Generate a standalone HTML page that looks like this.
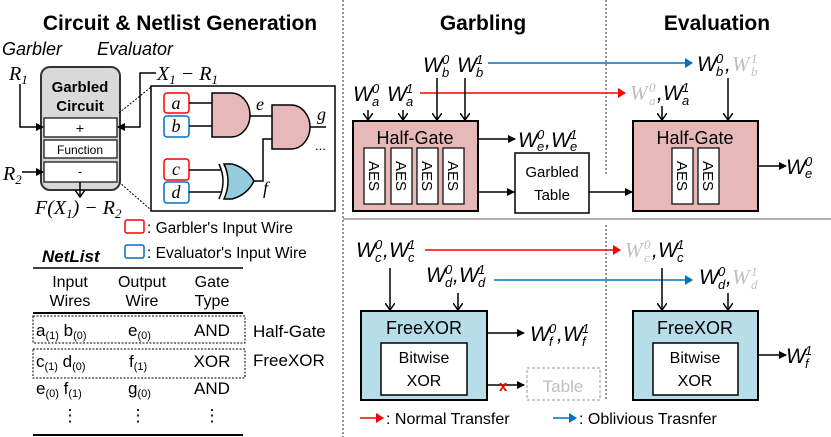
<!DOCTYPE html>
<html><head><meta charset="utf-8"><style>
html,body{margin:0;padding:0;background:#fff;}
svg{display:block;}
text{font-family:"Liberation Sans",sans-serif;fill:#000;}
.m{font-family:"Liberation Serif",serif;font-style:italic;font-weight:normal;}
.g{fill:#bfbfbf;}
g.m text[font-size="13"]{transform:translate(2px,0);}
</style></head><body>
<svg width="831" height="437" viewBox="0 0 831 437" xmlns="http://www.w3.org/2000/svg">
<defs>
<marker id="ak" markerWidth="8" markerHeight="8" refX="7" refY="4" orient="auto" markerUnits="userSpaceOnUse"><path d="M0,0 L8,4 L0,8 z" fill="#000"/></marker>
<marker id="ar" markerWidth="8" markerHeight="10" refX="7" refY="5" orient="auto" markerUnits="userSpaceOnUse"><path d="M0,0 L8,5 L0,10 z" fill="#f00"/></marker>
<marker id="ab" markerWidth="8" markerHeight="10" refX="7" refY="5" orient="auto" markerUnits="userSpaceOnUse"><path d="M0,0 L8,5 L0,10 z" fill="#0070c0"/></marker>
<marker id="av" markerWidth="10" markerHeight="8" refX="5" refY="7" orient="0" markerUnits="userSpaceOnUse"><path d="M0,0 L5,7 L10,0" fill="none" stroke="#000" stroke-width="1.5"/></marker>
</defs>

<line x1="343" y1="0" x2="343" y2="437" stroke="#777" stroke-width="1.5" stroke-dasharray="2,2"/>
<line x1="606" y1="0" x2="606" y2="176" stroke="#777" stroke-width="1.5" stroke-dasharray="2,2"/>
<line x1="606" y1="225" x2="606" y2="400" stroke="#777" stroke-width="1.5" stroke-dasharray="2,2"/>
<line x1="343" y1="219" x2="831" y2="219" stroke="#999" stroke-width="1.5"/>

<text x="180" y="30" font-size="21" font-weight="bold" text-anchor="middle">Circuit &amp; Netlist Generation</text>
<text x="483" y="30" font-size="21" font-weight="bold" text-anchor="middle">Garbling</text>
<text x="717" y="30" font-size="21" font-weight="bold" text-anchor="middle">Evaluation</text>

<text x="2" y="55" font-size="18" font-style="italic">Garbler</text>
<text x="97" y="55" font-size="18" font-style="italic">Evaluator</text>
<rect x="41" y="67" width="79" height="123" rx="9" fill="#d9d9d9" stroke="#333" stroke-width="2"/>
<text x="80" y="92" font-size="15" font-weight="bold" text-anchor="middle">Garbled</text>
<text x="80" y="111" font-size="15" font-weight="bold" text-anchor="middle">Circuit</text>
<rect x="44" y="118" width="73" height="19" fill="#fff" stroke="#333" stroke-width="1.5"/>
<text x="80" y="133" font-size="14" text-anchor="middle">+</text>
<rect x="44" y="140" width="73" height="18" fill="#fff" stroke="#333" stroke-width="1.5"/>
<text x="80" y="154" font-size="12" text-anchor="middle">Function</text>
<rect x="44" y="162" width="73" height="20" fill="#fff" stroke="#333" stroke-width="1.5"/>
<text x="80" y="176" font-size="13" text-anchor="middle">-</text>
<text class="m" x="9" y="80" font-size="20">R<tspan font-size="13" dy="4">1</tspan></text>
<polyline points="20,84 20,127 43,127" fill="none" stroke="#000" stroke-width="1.5" marker-end="url(#ak)"/>
<text class="m" x="157" y="80" font-size="20">X<tspan font-size="13" dy="4">1</tspan><tspan dy="-4"> − R</tspan><tspan font-size="13" dy="4">1</tspan></text>
<polyline points="156,73 140,73 140,127 118,127" fill="none" stroke="#000" stroke-width="1.5" marker-end="url(#ak)"/>
<text class="m" x="3" y="180" font-size="20">R<tspan font-size="13" dy="4">2</tspan></text>
<line x1="22" y1="172" x2="43" y2="172" stroke="#000" stroke-width="1.5" marker-end="url(#ak)"/>
<line x1="80" y1="182" x2="80" y2="197" stroke="#000" stroke-width="1.5" marker-end="url(#av)"/>
<text class="m" x="35" y="214" font-size="20">F(X<tspan font-size="13" dy="4">1</tspan><tspan dy="-4">) − R</tspan><tspan font-size="13" dy="4">2</tspan></text>
<line x1="119" y1="113" x2="151" y2="87" stroke="#000" stroke-width="1" stroke-dasharray="2,1.5"/>
<line x1="119" y1="182" x2="151" y2="210" stroke="#000" stroke-width="1" stroke-dasharray="2,1.5"/>
<rect x="151" y="86" width="184" height="125" fill="#fff" stroke="#000" stroke-width="1.5"/>
<rect x="164" y="93" width="25" height="20" rx="3" fill="#fff" stroke="#f00" stroke-width="1.5"/>
<text class="m" x="176" y="109" font-size="18" text-anchor="middle">a</text>
<rect x="164" y="116" width="25" height="21" rx="3" fill="#fff" stroke="#0070c0" stroke-width="1.5"/>
<text class="m" x="176" y="132" font-size="18" text-anchor="middle">b</text>
<rect x="164" y="159" width="25" height="21" rx="3" fill="#fff" stroke="#f00" stroke-width="1.5"/>
<text class="m" x="176" y="175" font-size="18" text-anchor="middle">c</text>
<rect x="164" y="182" width="25" height="21" rx="3" fill="#fff" stroke="#0070c0" stroke-width="1.5"/>
<text class="m" x="176" y="198" font-size="18" text-anchor="middle">d</text>
<line x1="189" y1="103" x2="212" y2="103" stroke="#000" stroke-width="1.5"/>
<line x1="189" y1="126" x2="212" y2="126" stroke="#000" stroke-width="1.5"/>
<line x1="189" y1="170" x2="222" y2="170" stroke="#000" stroke-width="1.5"/>
<line x1="189" y1="192" x2="222" y2="192" stroke="#000" stroke-width="1.5"/>
<path d="M212,93 L231,93 A19,22 0 0 1 231,137 L212,137 Z" fill="#e6b9b8" stroke="#000" stroke-width="1.5"/>
<line x1="250" y1="116" x2="272" y2="116" stroke="#000" stroke-width="1.5"/>
<text class="m" x="256" y="110" font-size="18">e</text>
<path d="M272,105 L291,105 A19,22 0 0 1 291,149 L272,149 Z" fill="#e6b9b8" stroke="#000" stroke-width="1.5"/>
<line x1="310" y1="127" x2="326" y2="127" stroke="#000" stroke-width="1.5"/>
<text class="m" x="317" y="120" font-size="18">g</text>
<text x="315" y="150" font-size="13">...</text>
<path d="M219,164 Q227,181 219,199" fill="none" stroke="#000" stroke-width="1.5"/>
<path d="M224,164 L232,164 Q247,168 254,181 Q247,195 232,199 L224,199 Q232,181 224,164 Z" fill="#93cddd" stroke="#000" stroke-width="1.5"/>
<polyline points="254,181 263,181 263,139 272,139" fill="none" stroke="#000" stroke-width="1.5"/>
<text class="m" x="263" y="194" font-size="18">f</text>

<rect x="125" y="220" width="19" height="13" rx="2" fill="#fff" stroke="#f00" stroke-width="1.5"/>
<text x="147" y="233" font-size="15.5">: Garbler's Input Wire</text>
<rect x="125" y="245" width="19" height="13" rx="2" fill="#fff" stroke="#0070c0" stroke-width="1.5"/>
<text x="147" y="258" font-size="15.5">: Evaluator's Input Wire</text>

<text x="42" y="262" font-size="17" font-weight="bold" font-style="italic">NetList</text>
<line x1="33" y1="268" x2="243" y2="268" stroke="#000" stroke-width="1.5"/>
<g font-size="16" text-anchor="middle">
<text x="70" y="287">Input</text><text x="70" y="306">Wires</text>
<text x="142" y="287">Output</text><text x="142" y="306">Wire</text>
<text x="212" y="287">Gate</text><text x="212" y="306">Type</text>
</g>
<line x1="33" y1="313" x2="243" y2="313" stroke="#000" stroke-width="2"/>
<rect x="33" y="316" width="212" height="27" fill="none" stroke="#000" stroke-width="1" stroke-dasharray="2,1.5"/>
<rect x="33" y="349" width="212" height="29" fill="none" stroke="#000" stroke-width="1" stroke-dasharray="2,1.5"/>
<g font-size="17">
<text x="36" y="336">a<tspan font-size="11" dy="3">(1)</tspan><tspan dy="-3"> b</tspan><tspan font-size="11" dy="3">(0)</tspan></text>
<text x="128" y="336">e<tspan font-size="11" dy="3">(0)</tspan></text>
<text x="212" y="336" text-anchor="middle">AND</text>
<text x="36" y="367">c<tspan font-size="11" dy="3">(1)</tspan><tspan dy="-3"> d</tspan><tspan font-size="11" dy="3">(0)</tspan></text>
<text x="129" y="367">f<tspan font-size="11" dy="3">(1)</tspan></text>
<text x="212" y="367" text-anchor="middle">XOR</text>
<text x="36" y="394">e<tspan font-size="11" dy="3">(0)</tspan><tspan dy="-3"> f</tspan><tspan font-size="11" dy="3">(1)</tspan></text>
<text x="128" y="394">g<tspan font-size="11" dy="3">(0)</tspan></text>
<text x="212" y="394" text-anchor="middle">AND</text>
<text x="70" y="421" text-anchor="middle">⋮</text><text x="138" y="421" text-anchor="middle">⋮</text><text x="212" y="421" text-anchor="middle">⋮</text>
<text x="253" y="337">Half-Gate</text>
<text x="253" y="366">FreeXOR</text>
</g>
<line x1="33" y1="435" x2="243" y2="435" stroke="#000" stroke-width="2"/>

<g class="m" font-size="21">
<text x="353" y="101">W</text><text x="370" y="93" font-size="13">0</text><text x="370" y="106" font-size="13">a</text>
<text x="387" y="101">W</text><text x="404" y="93" font-size="13">1</text><text x="404" y="106" font-size="13">a</text>
<text x="423" y="72">W</text><text x="440" y="64" font-size="13">0</text><text x="440" y="77" font-size="13">b</text>
<text x="457" y="72">W</text><text x="474" y="64" font-size="13">1</text><text x="474" y="77" font-size="13">b</text>
</g>
<line x1="420" y1="93" x2="625" y2="93" stroke="#f00" stroke-width="1.5" marker-end="url(#ar)"/>
<line x1="488" y1="63" x2="692" y2="63" stroke="#0070c0" stroke-width="1.5" marker-end="url(#ab)"/>
<g stroke="#000" stroke-width="1.5">
<line x1="368" y1="110" x2="368" y2="120" marker-end="url(#av)"/>
<line x1="403" y1="110" x2="403" y2="120" marker-end="url(#av)"/>
<line x1="437" y1="78" x2="437" y2="120" marker-end="url(#av)"/>
<line x1="465" y1="78" x2="465" y2="120" marker-end="url(#av)"/>
</g>
<rect x="353" y="121" width="125" height="90" fill="#e6b9b8" stroke="#000" stroke-width="2"/>
<text x="415" y="144" font-size="18" text-anchor="middle">Half-Gate</text>
<g font-size="15">
<rect x="364" y="148" width="21" height="56" fill="#fff" stroke="#000" stroke-width="1.2"/>
<rect x="391" y="148" width="21" height="56" fill="#fff" stroke="#000" stroke-width="1.2"/>
<rect x="417" y="148" width="21" height="56" fill="#fff" stroke="#000" stroke-width="1.2"/>
<rect x="443" y="148" width="21" height="56" fill="#fff" stroke="#000" stroke-width="1.2"/>
<text transform="translate(369,176) rotate(90)" text-anchor="middle">AES</text>
<text transform="translate(396,176) rotate(90)" text-anchor="middle">AES</text>
<text transform="translate(422,176) rotate(90)" text-anchor="middle">AES</text>
<text transform="translate(448,176) rotate(90)" text-anchor="middle">AES</text>
</g>
<line x1="478" y1="139" x2="515" y2="139" stroke="#000" stroke-width="1.5" marker-end="url(#ak)"/>
<g class="m" font-size="21">
<text x="518" y="147">W</text><text x="535" y="139" font-size="13">0</text><text x="535" y="151" font-size="13">e</text><text x="545" y="147">,</text>
<text x="551" y="147">W</text><text x="568" y="139" font-size="13">1</text><text x="568" y="151" font-size="13">e</text>
</g>
<line x1="478" y1="192" x2="514" y2="192" stroke="#000" stroke-width="1.5" marker-end="url(#ak)"/>
<rect x="515" y="153" width="74" height="60" fill="#fff" stroke="#000" stroke-width="1.5"/>
<text x="552" y="177" font-size="15" text-anchor="middle">Garbled</text>
<text x="552" y="200" font-size="15" text-anchor="middle">Table</text>
<line x1="589" y1="192" x2="632" y2="192" stroke="#000" stroke-width="1.5" marker-end="url(#ak)"/>

<g class="m" font-size="21">
<text x="630" y="100" class="m g">W</text><text x="647" y="92" font-size="13" class="m g">0</text><text x="647" y="105" font-size="13" class="m g">a</text><text x="657" y="100">,</text>
<text x="663" y="100">W</text><text x="680" y="92" font-size="13">1</text><text x="680" y="105" font-size="13">a</text>
<text x="697" y="71">W</text><text x="714" y="63" font-size="13">0</text><text x="714" y="76" font-size="13">b</text><text x="725" y="71">,</text>
<text x="732" y="71" class="m g">W</text><text x="749" y="63" font-size="13" class="m g">1</text><text x="749" y="76" font-size="13" class="m g">b</text>
</g>
<line x1="662" y1="106" x2="662" y2="120" stroke="#000" stroke-width="1.5" marker-end="url(#av)"/>
<line x1="728" y1="78" x2="728" y2="120" stroke="#000" stroke-width="1.5" marker-end="url(#av)"/>
<rect x="633" y="121" width="125" height="90" fill="#e6b9b8" stroke="#000" stroke-width="2"/>
<text x="695" y="144" font-size="18" text-anchor="middle">Half-Gate</text>
<g font-size="15">
<rect x="672" y="148" width="21" height="56" fill="#fff" stroke="#000" stroke-width="1.2"/>
<rect x="698" y="148" width="21" height="56" fill="#fff" stroke="#000" stroke-width="1.2"/>
<text transform="translate(677,176) rotate(90)" text-anchor="middle">AES</text>
<text transform="translate(703,176) rotate(90)" text-anchor="middle">AES</text>
</g>
<line x1="758" y1="166" x2="786" y2="166" stroke="#000" stroke-width="1.5" marker-end="url(#ak)"/>
<g class="m" font-size="21"><text x="786" y="174">W</text><text x="803" y="166" font-size="13">0</text><text x="803" y="178" font-size="13">e</text></g>

<g class="m" font-size="21">
<text x="356" y="257">W</text><text x="373" y="249" font-size="13">0</text><text x="373" y="262" font-size="13">c</text><text x="383" y="257">,</text>
<text x="389" y="257">W</text><text x="406" y="249" font-size="13">1</text><text x="406" y="262" font-size="13">c</text>
<text x="426" y="282">W</text><text x="443" y="274" font-size="13">0</text><text x="443" y="287" font-size="13">d</text><text x="453" y="282">,</text>
<text x="459" y="282">W</text><text x="476" y="274" font-size="13">1</text><text x="476" y="287" font-size="13">d</text>
</g>
<line x1="425" y1="250" x2="620" y2="250" stroke="#f00" stroke-width="1.5" marker-end="url(#ar)"/>
<line x1="494" y1="280" x2="692" y2="280" stroke="#0070c0" stroke-width="1.5" marker-end="url(#ab)"/>
<line x1="390" y1="268" x2="390" y2="310" stroke="#000" stroke-width="1.5" marker-end="url(#av)"/>
<line x1="458" y1="293" x2="458" y2="310" stroke="#000" stroke-width="1.5" marker-end="url(#av)"/>
<rect x="361" y="311" width="126" height="89" fill="#b7dde8" stroke="#000" stroke-width="2"/>
<text x="424" y="334" font-size="18" text-anchor="middle">FreeXOR</text>
<rect x="381" y="343" width="86" height="52" fill="#fff" stroke="#000" stroke-width="1.5"/>
<text x="424" y="363" font-size="16" text-anchor="middle">Bitwise</text>
<text x="424" y="386" font-size="16" text-anchor="middle">XOR</text>
<line x1="487" y1="333" x2="524" y2="333" stroke="#000" stroke-width="1.5" marker-end="url(#ak)"/>
<g class="m" font-size="21">
<text x="530" y="341">W</text><text x="547" y="333" font-size="13">0</text><text x="547" y="346" font-size="13">f</text><text x="557" y="341">,</text>
<text x="563" y="341">W</text><text x="580" y="333" font-size="13">1</text><text x="580" y="346" font-size="13">f</text>
</g>
<line x1="487" y1="385" x2="524" y2="385" stroke="#000" stroke-width="1.5" marker-end="url(#ak)"/>
<text x="503" y="391" font-size="15" font-weight="bold" style="fill:#f00" text-anchor="middle">x</text>
<rect x="527" y="368" width="73" height="32" fill="#fff" stroke="#aaa" stroke-width="1.2" stroke-dasharray="3,2"/>
<text x="563" y="392" font-size="17" text-anchor="middle" class="g">Table</text>

<g class="m" font-size="21">
<text x="625" y="257" class="m g">W</text><text x="642" y="249" font-size="13" class="m g">0</text><text x="642" y="262" font-size="13" class="m g">c</text><text x="652" y="257">,</text>
<text x="658" y="257">W</text><text x="675" y="249" font-size="13">1</text><text x="675" y="262" font-size="13">c</text>
<text x="699" y="284">W</text><text x="716" y="276" font-size="13">0</text><text x="716" y="289" font-size="13">d</text><text x="726" y="284">,</text>
<text x="732" y="284" class="m g">W</text><text x="749" y="276" font-size="13" class="m g">1</text><text x="749" y="289" font-size="13" class="m g">d</text>
</g>
<line x1="662" y1="268" x2="662" y2="310" stroke="#000" stroke-width="1.5" marker-end="url(#av)"/>
<line x1="728" y1="293" x2="728" y2="310" stroke="#000" stroke-width="1.5" marker-end="url(#av)"/>
<rect x="633" y="311" width="125" height="89" fill="#b7dde8" stroke="#000" stroke-width="2"/>
<text x="695" y="334" font-size="18" text-anchor="middle">FreeXOR</text>
<rect x="653" y="343" width="85" height="52" fill="#fff" stroke="#000" stroke-width="1.5"/>
<text x="695" y="363" font-size="16" text-anchor="middle">Bitwise</text>
<text x="695" y="386" font-size="16" text-anchor="middle">XOR</text>
<line x1="758" y1="355" x2="786" y2="355" stroke="#000" stroke-width="1.5" marker-end="url(#ak)"/>
<g class="m" font-size="21"><text x="786" y="363">W</text><text x="803" y="355" font-size="13">1</text><text x="803" y="368" font-size="13">f</text></g>

<line x1="360" y1="418" x2="383" y2="418" stroke="#f00" stroke-width="1.5" marker-end="url(#ar)"/>
<text x="386" y="424" font-size="16">: Normal Transfer</text>
<line x1="553" y1="418" x2="576" y2="418" stroke="#0070c0" stroke-width="1.5" marker-end="url(#ab)"/>
<text x="579" y="424" font-size="16">: Oblivious Trasnfer</text>
</svg>
</body></html>
